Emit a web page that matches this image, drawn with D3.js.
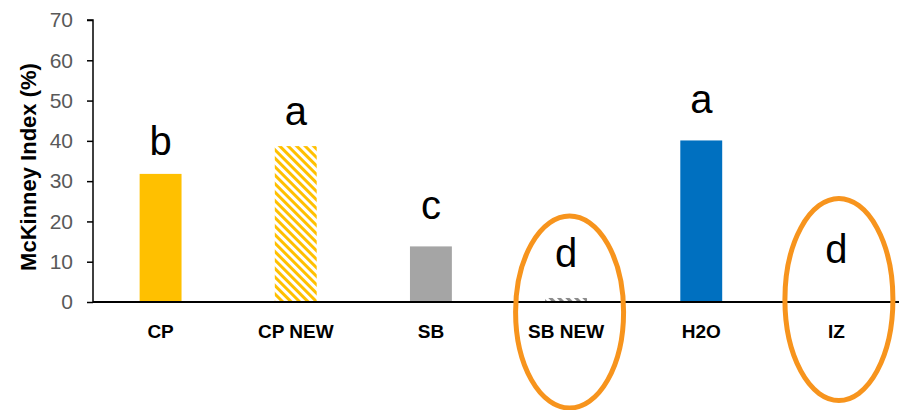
<!DOCTYPE html>
<html>
<head>
<meta charset="utf-8">
<script src="https://cdn.jsdelivr.net/npm/d3@7"></script>
<style>
  html, body { margin: 0; padding: 0; background: #fff; }
  svg { display: block; }
</style>
</head>
<body>
<svg id="chart" width="899" height="410"></svg>
<script>
// ---- data ----
const categories = ["CP", "CP NEW", "SB", "SB NEW", "H2O", "IZ"];
const values = [31.8, 38.7, 13.8, 1.0, 40.1, 0];
const letters = ["b", "a", "c", "d", "a", "d"];
const letterLevels = [36.6, 44.0, 20.5, 8.6, 47.0, 9.8];
const yTicks = [0, 10, 20, 30, 40, 50, 60, 70];
const circled = ["SB NEW", "IZ"];

(function () {
// ---- styles ----
const fills = ["#FFC000", "url(#hatchGold)", "#A5A5A5", "url(#hatchGray)", "#0070C0", "none"];

const svg = d3.select("#chart");
const W = 899, H = 410;
const mLeft = 93, mRight = 904, mTop = 20, mBottom = 302;

const x = d3.scaleBand().domain(categories).range([mLeft, mRight])
  .paddingInner(0.69).paddingOuter(0.345);
const y = d3.scaleLinear().domain([0, 70]).range([mBottom, mTop]);

// hatch patterns
const defs = svg.append("defs");
function hatch(id, color) {
  const p = defs.append("pattern").attr("id", id)
    .attr("patternUnits", "userSpaceOnUse")
    .attr("width", 6).attr("height", 6)
    .attr("patternTransform", "rotate(45)");
  p.append("rect").attr("width", 6).attr("height", 6).attr("fill", "#fff");
  p.append("rect").attr("width", 6).attr("height", 3).attr("fill", color);
}
hatch("hatchGold", "#FFC000");
hatch("hatchGray", "#8C8C8C");

// bars
svg.append("g").selectAll("rect").data(categories).join("rect")
  .attr("x", d => x(d))
  .attr("width", x.bandwidth())
  .attr("y", (d, i) => y(values[i]))
  .attr("height", (d, i) => y(0) - y(values[i]))
  .attr("fill", (d, i) => fills[i]);

// y axis
const yAxis = d3.axisLeft(y).tickValues(yTicks).tickSize(6).tickPadding(14);
const gy = svg.append("g").attr("transform", `translate(${mLeft},0)`).call(yAxis);
gy.select(".domain").attr("stroke", "#000").attr("stroke-width", 1.5)
  .attr("d", `M-6,${mTop}H0V${mBottom}`);
gy.selectAll(".tick line").attr("stroke", "#000").attr("stroke-width", 1.5);
gy.selectAll(".tick text")
  .attr("font-family", "'Liberation Sans', Arial, sans-serif")
  .attr("font-size", 21).attr("fill", "#595959");

// x axis
const xAxis = d3.axisBottom(x).tickSize(0).tickPadding(23);
const gx = svg.append("g").attr("transform", `translate(0,${mBottom})`).call(xAxis);
gx.select(".domain").attr("stroke", "#000").attr("stroke-width", 2)
  .attr("d", `M${mLeft},0H${W}`);
gx.selectAll(".tick text")
  .attr("font-family", "'Liberation Sans', Arial, sans-serif")
  .attr("font-weight", "bold")
  .attr("font-size", 19).attr("fill", "#000");

// y title
svg.append("text")
  .attr("transform", `translate(36,${(mTop + mBottom) / 2 + 6}) rotate(-90)`)
  .attr("text-anchor", "middle")
  .attr("font-family", "'Liberation Sans', Arial, sans-serif")
  .attr("font-weight", "bold").attr("font-size", 22)
  .attr("fill", "#000")
  .text("McKinney Index (%)");

// significance letters
svg.append("g").selectAll("text").data(categories).join("text")
  .attr("x", d => x(d) + x.bandwidth() / 2)
  .attr("y", (d, i) => y(letterLevels[i]))
  .attr("text-anchor", "middle")
  .attr("font-family", "'Liberation Sans', Arial, sans-serif")
  .attr("font-size", 40).attr("fill", "#000")
  .text((d, i) => letters[i]);

// orange ellipses
const ellipseInfo = { "SB NEW": { dx: 3.5, cy: 312, rx: 54, ry: 96 }, "IZ": { dx: 2.5, cy: 299.5, rx: 54, ry: 101 } };
svg.append("g").selectAll("ellipse").data(circled).join("ellipse")
  .attr("cx", d => x(d) + x.bandwidth() / 2 + ellipseInfo[d].dx)
  .attr("cy", d => ellipseInfo[d].cy)
  .attr("rx", d => ellipseInfo[d].rx)
  .attr("ry", d => ellipseInfo[d].ry)
  .attr("fill", "none")
  .attr("stroke", "#F7941D")
  .attr("stroke-width", 5);
})();
</script>
</body>
</html>
